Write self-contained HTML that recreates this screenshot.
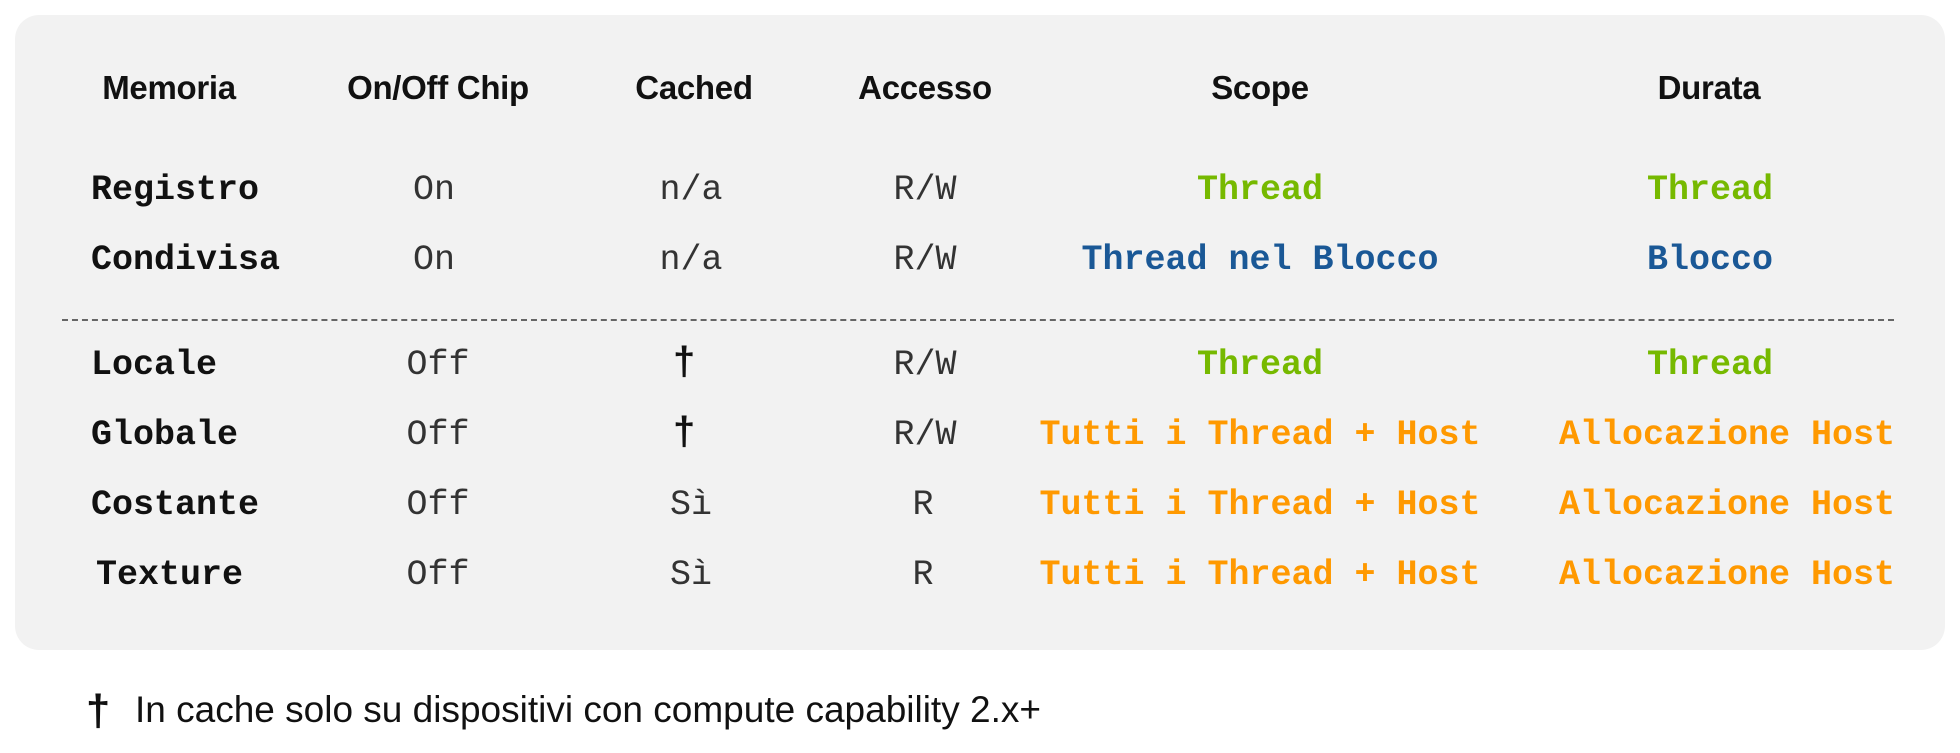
<!DOCTYPE html>
<html><head><meta charset="utf-8"><style>
body{margin:0;width:1960px;height:753px;background:#fff;position:relative;overflow:hidden;font-family:"Liberation Sans",sans-serif}
.panel{position:absolute;left:15px;top:15px;width:1930px;height:635px;background:#f2f2f2;border-radius:24px}
.t{position:absolute;white-space:nowrap;transform:translate(-50%,-50%)}
.h{font-family:"Liberation Sans",sans-serif;font-weight:bold;font-size:33px;color:#111;letter-spacing:-0.3px}
.m{font-family:"Liberation Mono",monospace;font-size:35px;color:#333}
.b{font-weight:bold;color:#111}
.l{transform:translate(0,-50%)}
.g{color:#76b900;font-weight:bold}
.bl{color:#1a5896;font-weight:bold}
.o{color:#ff9900;font-weight:bold}
.dash{position:absolute;left:62px;top:319px;width:1832px;border-top:2px dashed #666}
</style></head><body>
<div class="panel"></div>
<div class="t h" style="left:169px;top:88px">Memoria</div>
<div class="t h" style="left:438px;top:88px">On/Off Chip</div>
<div class="t h" style="left:694px;top:88px">Cached</div>
<div class="t h" style="left:925px;top:88px">Accesso</div>
<div class="t h" style="left:1260px;top:88px">Scope</div>
<div class="t h" style="left:1709px;top:88px">Durata</div>
<div class="dash"></div>

<div class="t m b l" style="left:91px;top:190px">Registro</div>
<div class="t m" style="left:434px;top:190px">On</div>
<div class="t m" style="left:691px;top:190px">n/a</div>
<div class="t m" style="left:925px;top:190px">R/W</div>
<div class="t m g" style="left:1260px;top:190px">Thread</div>
<div class="t m g" style="left:1710px;top:190px">Thread</div>

<div class="t m b l" style="left:91px;top:260px">Condivisa</div>
<div class="t m" style="left:434px;top:260px">On</div>
<div class="t m" style="left:691px;top:260px">n/a</div>
<div class="t m" style="left:925px;top:260px">R/W</div>
<div class="t m bl" style="left:1260px;top:260px">Thread nel Blocco</div>
<div class="t m bl" style="left:1710px;top:260px">Blocco</div>

<div class="t m b l" style="left:91px;top:365px">Locale</div>
<div class="t m" style="left:438px;top:365px">Off</div>
<div class="t h" style="left:684px;top:362px;font-size:40px">†</div>
<div class="t m" style="left:925px;top:365px">R/W</div>
<div class="t m g" style="left:1260px;top:365px">Thread</div>
<div class="t m g" style="left:1710px;top:365px">Thread</div>

<div class="t m b l" style="left:91px;top:435px">Globale</div>
<div class="t m" style="left:438px;top:435px">Off</div>
<div class="t h" style="left:684px;top:432px;font-size:40px">†</div>
<div class="t m" style="left:925px;top:435px">R/W</div>
<div class="t m o" style="left:1260px;top:435px">Tutti i Thread + Host</div>
<div class="t m o" style="left:1727px;top:435px">Allocazione Host</div>

<div class="t m b l" style="left:91px;top:505px">Costante</div>
<div class="t m" style="left:438px;top:505px">Off</div>
<div class="t m" style="left:691px;top:505px">Sì</div>
<div class="t m" style="left:923px;top:505px">R</div>
<div class="t m o" style="left:1260px;top:505px">Tutti i Thread + Host</div>
<div class="t m o" style="left:1727px;top:505px">Allocazione Host</div>

<div class="t m b l" style="left:96px;top:575px">Texture</div>
<div class="t m" style="left:438px;top:575px">Off</div>
<div class="t m" style="left:691px;top:575px">Sì</div>
<div class="t m" style="left:923px;top:575px">R</div>
<div class="t m o" style="left:1260px;top:575px">Tutti i Thread + Host</div>
<div class="t m o" style="left:1727px;top:575px">Allocazione Host</div>

<div class="t h" style="left:98px;top:711px;font-size:44px">†</div>
<div class="t l" style="left:135px;top:710px;font-size:37px;color:#111">In cache solo su dispositivi con compute capability 2.x+</div>
</body></html>
